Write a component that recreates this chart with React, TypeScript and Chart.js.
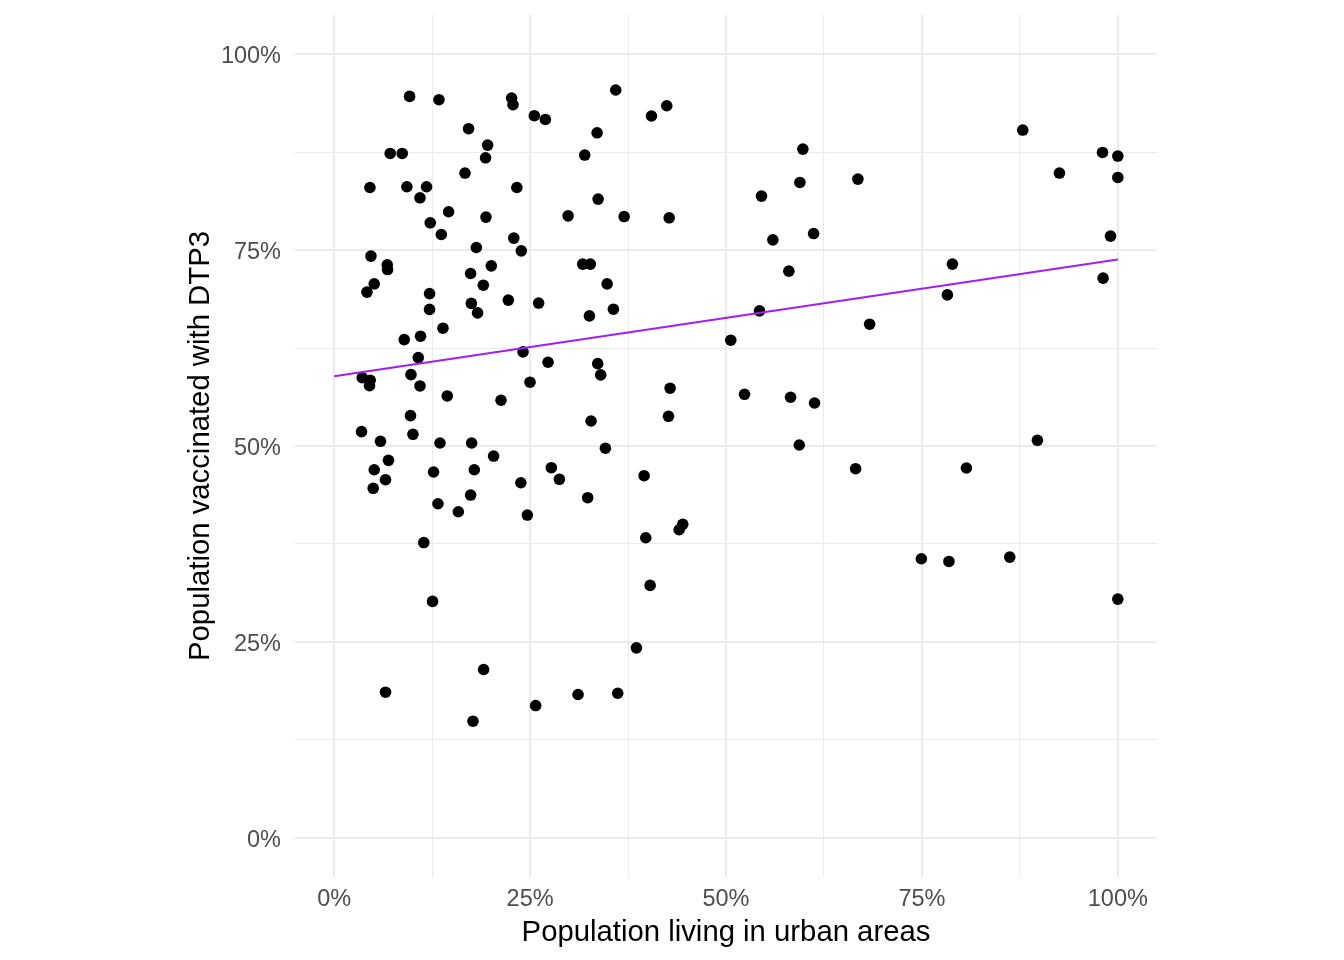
import React, { useEffect, useRef } from "react";
import { Chart, registerables } from "chart.js";

Chart.register(...registerables);

// Population living in urban areas (%)
const urbanPct: number[] = [
  9.62, 13.37, 22.64, 22.82, 35.93, 42.44, 40.49, 25.54, 26.95, 17.15,
  33.55, 19.58, 7.15, 8.68, 19.32, 31.97, 16.69, 4.56, 9.28, 11.79,
  10.95, 23.31, 14.6, 19.37, 12.26, 13.67, 22.92, 18.14, 23.88, 4.69,
  6.77, 6.81, 20.05, 17.41, 5.11, 4.18, 19.03, 12.17, 22.22, 17.5,
  12.17, 18.3, 29.85, 37.0, 42.75, 33.68, 31.71, 32.69, 34.83, 26.09,
  35.63, 32.57, 13.88, 8.94, 11.02, 10.73, 24.1, 3.58, 4.6, 4.51,
  9.8, 10.95, 14.43, 21.29, 9.74, 3.49, 10.05, 5.91, 13.5, 17.54,
  20.34, 6.93, 5.11, 12.68, 17.88, 6.55, 4.98, 17.41, 23.82, 13.24,
  15.84, 11.43, 27.29, 33.63, 34.01, 24.99, 42.87, 42.66, 32.78, 34.61,
  27.71, 28.74, 39.55, 32.35, 24.65, 44.48, 44.02, 39.76, 12.55, 40.32,
  38.57, 19.07, 6.55, 31.12, 36.18, 25.71, 17.71, 59.81, 66.83, 59.43,
  54.53, 61.18, 55.98, 58.02, 54.28, 68.33, 50.61, 52.36, 58.24, 61.3,
  59.35, 66.54, 87.87, 98.05, 100.0, 92.55, 100.0, 99.07, 78.89, 98.12,
  78.25, 89.74, 80.68, 74.93, 78.45, 86.21, 100.0,
];

// Population vaccinated with DTP3 (%)
const dtp3Pct: number[] = [
  94.61, 94.19, 94.41, 93.55, 95.43, 93.42, 92.11, 92.15, 91.67, 90.49,
  89.97, 88.4, 87.33, 87.33, 86.78, 87.13, 84.83, 82.99, 83.08, 83.08,
  81.67, 82.99, 79.89, 79.21, 78.48, 76.99, 76.53, 75.33, 74.9, 74.23,
  73.12, 72.52, 72.99, 72.01, 70.69, 69.63, 70.52, 69.45, 68.61, 68.2,
  67.43, 66.99, 79.37, 79.28, 79.12, 81.51, 73.21, 73.21, 70.69, 68.24,
  67.46, 66.6, 65.03, 63.58, 64.01, 61.28, 62.01, 58.72, 58.39, 57.7,
  59.11, 57.66, 56.39, 55.84, 53.87, 51.83, 51.49, 50.6, 50.38, 50.38,
  48.72, 48.17, 46.97, 46.68, 46.97, 45.7, 44.6, 43.74, 45.31, 42.63,
  41.61, 37.68, 60.69, 60.51, 59.07, 58.14, 57.37, 53.79, 53.19, 49.71,
  47.23, 45.75, 46.21, 43.4, 41.19, 40.0, 39.31, 38.29, 30.17, 32.21,
  24.24, 21.48, 18.58, 18.29, 18.45, 16.88, 14.88, 87.89, 84.06, 83.63,
  81.89, 77.11, 76.31, 72.31, 67.24, 65.54, 63.5, 56.6, 56.22, 55.49,
  50.13, 47.1, 90.32, 87.46, 87.0, 84.83, 84.27, 76.78, 73.21, 71.42,
  69.28, 50.73, 47.19, 35.61, 35.27, 35.82, 30.46,
];

// Linear trend line endpoints
const trendX: number[] = [0, 100];
const trendY: number[] = [58.9, 73.8];

// Axes
const gridTicks: number[] = [0, 12.5, 25, 37.5, 50, 62.5, 75, 87.5, 100];
const labeledTicks: number[] = [0, 25, 50, 75, 100];
const xTitle = "Population living in urban areas";
const yTitle = "Population vaccinated with DTP3";

const FONT = "'Liberation Sans', Arial, Helvetica, sans-serif";

export default function App() {
  const ref = useRef<HTMLCanvasElement>(null);

  useEffect(() => {
    const canvas = ref.current;
    if (!canvas) return;

    const gridWidth = (ctx: any) =>
      ctx.tick && labeledTicks.includes(ctx.tick.value) ? 2.1 : 1.05;
    const tickLabel = (v: any) =>
      labeledTicks.includes(Number(v)) ? `${v}%` : "";

    const chart = new Chart(canvas, {
      type: "scatter",
      data: {
        datasets: [
          {
            data: trendX.map((x, i) => ({ x, y: trendY[i] })),
            showLine: true,
            borderColor: "#A020F0",
            borderWidth: 2.2,
            pointRadius: 0,
            pointHoverRadius: 0,
            fill: false,
            order: 0,
          } as any,
          {
            data: urbanPct.map((x, i) => ({ x, y: dtp3Pct[i] })),
            backgroundColor: "#000000",
            borderWidth: 0,
            pointRadius: 5.8,
            pointHoverRadius: 5.8,
            order: 1,
          } as any,
        ],
      },
      options: {
        responsive: false,
        animation: false,
        devicePixelRatio: 1,
        events: [],
        layout: { padding: { left: 183, right: 187, top: 15, bottom: 0 } },
        plugins: {
          legend: { display: false },
          tooltip: { enabled: false },
        },
        scales: {
          x: {
            type: "linear",
            min: -5,
            max: 105,
            afterBuildTicks: (s: any) => {
              s.ticks = gridTicks.map((v) => ({ value: v }));
            },
            afterFit: (s: any) => {
              s.height = 83;
              s.paddingLeft = 0;
              s.paddingRight = 0;
            },
            border: { display: false },
            grid: {
              color: "#EBEBEB",
              lineWidth: gridWidth,
              drawTicks: false,
            },
            ticks: {
              autoSkip: false,
              maxRotation: 0,
              padding: 8.5,
              color: "#4D4D4D",
              font: { family: FONT, size: 23.5 },
              callback: tickLabel,
            },
            title: {
              display: true,
              text: xTitle,
              color: "#000000",
              font: { family: FONT, size: 29.3 },
              padding: { top: 0, bottom: 9.5 },
            },
          },
          y: {
            type: "linear",
            min: -5,
            max: 105,
            afterBuildTicks: (s: any) => {
              s.ticks = gridTicks.map((v) => ({ value: v }));
            },
            afterFit: (s: any) => {
              s.width = 112;
              s.paddingTop = 0;
              s.paddingBottom = 0;
            },
            border: { display: false },
            grid: {
              color: "#EBEBEB",
              lineWidth: gridWidth,
              drawTicks: false,
            },
            ticks: {
              autoSkip: false,
              padding: 14,
              labelOffset: 2.5,
              color: "#4D4D4D",
              font: { family: FONT, size: 23.5 },
              callback: tickLabel,
            },
            title: {
              display: true,
              text: yTitle,
              color: "#000000",
              font: { family: FONT, size: 29.3 },
              padding: { top: 0, bottom: 0 },
            },
          },
        },
      } as any,
    });

    return () => chart.destroy();
  }, []);

  return (
    <div
      style={{
        position: "fixed",
        left: 0,
        top: 0,
        width: 1344,
        height: 960,
        background: "#ffffff",
      }}
    >
      <canvas
        ref={ref}
        width={1344}
        height={960}
        style={{ display: "block", width: 1344, height: 960 }}
      />
    </div>
  );
}
